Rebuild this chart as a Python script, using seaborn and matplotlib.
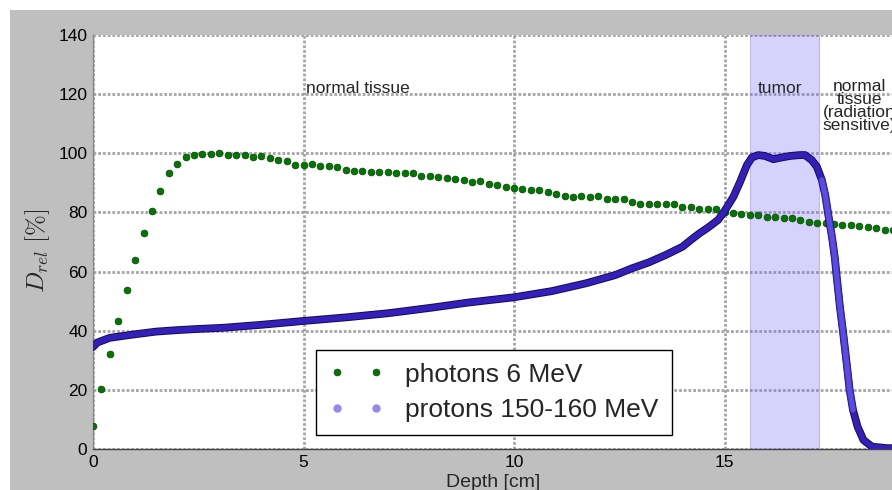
import matplotlib
matplotlib.use("Agg")
import matplotlib.pyplot as plt
import seaborn as sns
import pandas as pd
from matplotlib.lines import Line2D
from matplotlib.patches import Rectangle
import matplotlib.patheffects as pe

sns.set_style("white")
plt.rcParams["font.family"] = ["Liberation Sans", "DejaVu Sans"]
plt.rcParams["mathtext.fontset"] = "cm"

# ---------------- data ----------------
photon_depth = [0.0, 0.2, 0.4, 0.6, 0.8, 1.0, 1.2, 1.4, 1.6, 1.8,
                2.0, 2.2, 2.4, 2.6, 2.8, 3.0, 3.2, 3.4, 3.6, 3.8,
                4.0, 4.2, 4.4, 4.6, 4.8, 5.0, 5.2, 5.4, 5.6, 5.8,
                6.0, 6.2, 6.4, 6.6, 6.8, 7.0, 7.2, 7.4, 7.6, 7.8,
                8.0, 8.2, 8.4, 8.6, 8.8, 9.0, 9.2, 9.4, 9.6, 9.8,
                10.0, 10.2, 10.4, 10.6, 10.8, 11.0, 11.2, 11.4, 11.6, 11.8,
                12.0, 12.2, 12.4, 12.6, 12.8, 13.0, 13.2, 13.4, 13.6, 13.8,
                14.0, 14.2, 14.4, 14.6, 14.8, 15.0, 15.2, 15.4, 15.6, 15.8,
                16.0, 16.2, 16.4, 16.6, 16.8, 17.0, 17.2, 17.4, 17.6, 17.8,
                18.0, 18.2, 18.4, 18.6, 18.8, 19.0]
photon_dose = [7.8, 20.2, 32.1, 43.4, 53.8, 63.9, 72.9, 80.4, 87.2, 93.2,
               96.3, 98.7, 99.3, 99.8, 99.8, 100.1, 99.3, 99.3, 99.3, 98.6,
               99.0, 98.4, 97.6, 97.3, 96.2, 96.2, 96.4, 95.8, 95.6, 95.2,
               94.4, 94.0, 94.0, 93.8, 93.6, 93.6, 93.2, 93.2, 93.2, 92.2,
               92.2, 91.9, 91.6, 91.3, 91.1, 90.2, 90.5, 89.6, 89.2, 88.6,
               88.1, 87.8, 87.6, 87.6, 86.9, 86.4, 85.6, 85.3, 85.4, 85.2,
               85.4, 84.4, 84.4, 84.4, 83.6, 82.9, 82.7, 82.7, 82.7, 82.7,
               81.7, 82.0, 81.3, 81.3, 81.0, 80.2, 79.7, 79.5, 79.1, 79.2,
               78.6, 78.3, 78.1, 78.1, 77.5, 76.6, 76.5, 76.3, 76.0, 75.7,
               75.9, 75.4, 75.1, 74.9, 74.2, 74.0]

proton_depth = [0.0, 0.1, 0.4, 1.0, 1.5, 2.0, 2.5, 3.1, 4.0, 5.0,
                6.0, 7.0, 7.5, 8.1, 8.9, 10.0, 10.9, 11.7, 12.4, 12.8,
                13.2, 13.6, 14.0, 14.2, 14.4, 14.6, 14.85, 15.0, 15.21, 15.37,
                15.53, 15.65, 15.8, 15.96, 16.16, 16.36, 16.56, 16.79, 16.91, 17.07,
                17.19, 17.31, 17.39, 17.47, 17.55, 17.62, 17.65, 17.74, 17.81, 17.89,
                17.97, 18.05, 18.16, 18.3, 18.5, 18.85, 19.5, 20.0]
proton_dose = [34.5, 36.0, 37.6, 38.8, 39.7, 40.2, 40.6, 41.0, 42.0, 43.3,
               44.5, 45.9, 46.8, 47.9, 49.5, 51.3, 53.4, 56.0, 58.8, 61.1,
               63.1, 65.6, 68.4, 70.7, 72.9, 74.8, 77.5, 80.5, 85.3, 90.4,
               96.0, 98.6, 99.4, 99.1, 98.0, 98.6, 99.1, 99.4, 99.4, 97.7,
               95.5, 91.0, 85.9, 78.6, 71.8, 64.5, 60.0, 48.0, 40.0, 30.1,
               20.0, 13.2, 7.5, 3.0, 0.8, 0.3, 0.2, 0.2]

tumor_range = [15.6, 17.25]
labels = ["photons 6 MeV", "protons 150-160 MeV"]
x_ticks = [0, 5, 10, 15]
y_ticks = [0, 20, 40, 60, 80, 100, 120, 140]

photons = pd.DataFrame({"depth": photon_depth, "dose": photon_dose})
protons = pd.DataFrame({"depth": proton_depth, "dose": proton_dose})
falloff = protons[(protons["depth"] >= 17.2) & (protons["depth"] <= 18.05)]

# ---------------- figure ----------------
W, H = 892, 490
fig = plt.figure(figsize=(W / 100, H / 100), dpi=100)
fig.patch.set_facecolor("#bfbfbf")
fig.patches.append(Rectangle((0, 1 - 10 / H), 1, 10 / H, transform=fig.transFigure,
                             facecolor="white", edgecolor="none", zorder=-5))
fig.patches.append(Rectangle((0, 0), 10 / W, 1, transform=fig.transFigure,
                             facecolor="white", edgecolor="none", zorder=-5))

ax_left, ax_top, ax_bottom = 93, 35, 449
ax = fig.add_axes([ax_left / W, 1 - ax_bottom / H, 800 / W, (ax_bottom - ax_top) / H])
ax.set_facecolor("white")

ax.axvspan(tumor_range[0], tumor_range[1], facecolor="#7b6cf6", alpha=0.3,
           edgecolor="#5a4ad0", linewidth=0.8, zorder=1)

sns.scatterplot(data=photons, x="depth", y="dose", ax=ax, color="#007800",
                edgecolor="#0b3d0b", linewidth=0.5, s=24, zorder=3, legend=False)

sns.lineplot(data=protons, x="depth", y="dose", ax=ax, color="#3420b8",
             linewidth=4.2, sort=False, zorder=4, legend=False,
             path_effects=[pe.Stroke(linewidth=5.6, foreground="#150a58"), pe.Normal()])
sns.lineplot(data=falloff, x="depth", y="dose", ax=ax, color="#5b4be4",
             linewidth=3.6, sort=False, zorder=4.5, legend=False,
             path_effects=[pe.Stroke(linewidth=5.0, foreground="#3a2aa8"), pe.Normal()])

ax.set_xlim(0, 19)
ax.set_ylim(0, 140)
ax.set_xticks(x_ticks)
ax.set_yticks(y_ticks)
ax.tick_params(axis="both", length=0, labelsize=12.5, colors="black", pad=4)

ax.set_axisbelow(True)
ax.grid(True, color="#a5a5a5", linewidth=2, linestyle=(0, (1.0, 0.7)), zorder=0.5)

for side in ["top", "right"]:
    ax.spines[side].set_visible(False)
ax.spines["left"].set_color("#888888")
ax.spines["left"].set_linewidth(1)
ax.spines["bottom"].set_color("#444444")
ax.spines["bottom"].set_linewidth(1)

ax.set_xlabel("Depth [cm]", fontsize=14)
ax.xaxis.set_label_coords(0.5, -(474 - ax_bottom) / (ax_bottom - ax_top))
ax.set_ylabel(r"$D_{rel}\ [\%]$", fontsize=18)
ax.yaxis.set_label_coords(-(93 - 52) / 800, 0.48)

ax.text(6.28, 122, "normal tissue", fontsize=12.5, ha="center", va="center")
ax.text(16.32, 122, "tumor", fontsize=12.5, ha="center", va="center")
ax.text(18.2, 116, "normal\ntissue\n(radiation\nsensitive)", fontsize=12.5,
        ha="center", va="center", linespacing=0.82)

handles = [
    Line2D([], [], linestyle="none", marker="o", markersize=5, color="#007800",
           markeredgecolor="#0b3d0b", markeredgewidth=0.4),
    Line2D([], [], linestyle="none", marker="o", markersize=5, color="#9488f2",
           markeredgecolor="#9488f2"),
]
leg = ax.legend(handles, labels, loc="lower left",
                bbox_to_anchor=((316 - 93) / 800, (449 - 435) / 414),
                borderaxespad=0, fontsize=19, numpoints=2, handlelength=2.07,
                handletextpad=0.8, borderpad=0.5, labelspacing=0.42,
                frameon=True, fancybox=False, framealpha=1, edgecolor="black")
leg.get_frame().set_linewidth(1)
leg.set_zorder(10)

fig.savefig("out.png", dpi=100, facecolor=fig.get_facecolor())
